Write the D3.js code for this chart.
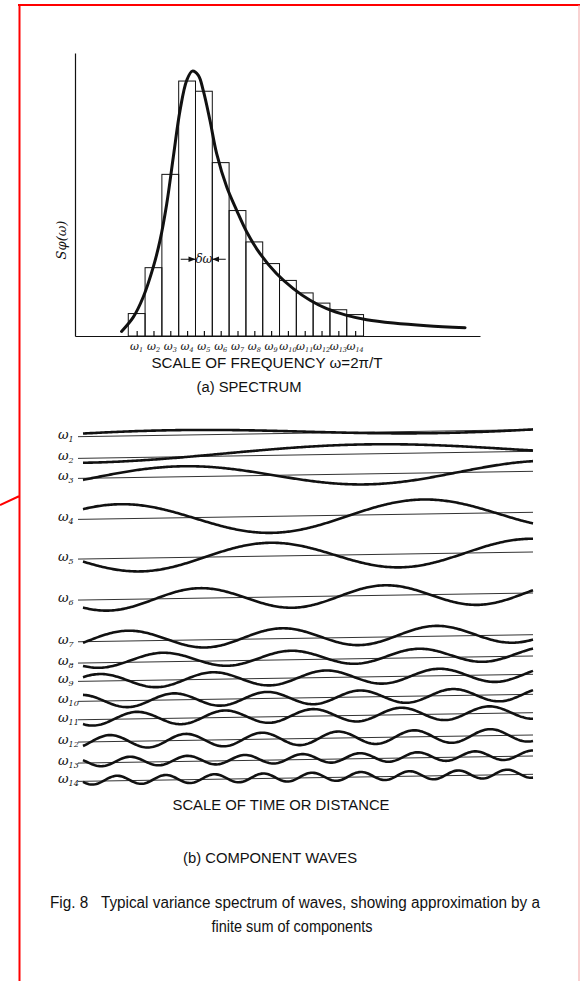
<!DOCTYPE html>
<html>
<head>
<meta charset="utf-8">
<script src="https://cdn.jsdelivr.net/npm/d3@7"></script>
<style>
  body { margin: 0; background: #fff; }
  svg { display: block; }
  text { fill: #111; font-family: "Liberation Sans", "DejaVu Sans", sans-serif; white-space: pre; }
</style>
</head>
<body>
<svg id="fig" width="580" height="981"></svg>
<script>
/* Fig. 8 - variance spectrum and its component waves */

// spectrum bars (relative variance per band, bar 4 = 100)
const bandLabels = d3.range(1, 15);
const bandHeights = [8.8, 26.8, 63.4, 100, 96, 68, 49.2, 36.9, 28.4, 21.8, 16.9, 12.9, 10.3, 8.4];

// smooth spectrum curve (omega in band units, S in same units as bars)
const curveOmega = [0.1, 0.8, 1.39, 1.99, 2.39, 2.79, 3.18, 3.58, 3.98, 4.31, 4.67, 4.96, 5.36, 5.76, 6.36, 6.95, 7.55, 8.34, 9.33, 10.32, 11.32, 12.31, 13.5, 14.69, 16.27, 18.26, 20.54];
const curveS     = [1.8, 7.4, 15.3, 27.1, 37.5, 51.9, 70.2, 88.5, 100.3, 103.9, 102.2, 96.3, 84.6, 71.5, 58.4, 49.3, 40.8, 32.3, 24.4, 18.6, 14.0, 10.7, 8.1, 6.4, 5.1, 4.05, 3.27];

// component waves: amplitude, period, first crest and mean offset (time units)
const waveAmp    = [3.5, 7, 10.5, 15.5, 13.3, 10.5, 9, 7, 7, 6.5, 6.5, 6.5, 4.5, 4.2];
const wavePeriod = [520, 574, 365, 303, 260, 185, 154, 128, 113, 93, 88, 76, 57.5, 48.75];
const waveCrest  = [92, 284, 100, 37, 187, 117, 45, 80, 17, 91, 54, 27, 47, 34];
const waveOffset = [1.5, 2.5, 0, -1, 0, -0.5, 1.3, 2, 0, 0, 0.5, 0, 1, 0.8];

// layout
const rowY = [436.6, 458.3, 478.3, 519.3, 559, 600, 641.7, 663, 681.3, 701.3, 719.7, 742, 763, 781.3];
const rowTilt = 7;

const svg = d3.select("#fig");
const ink = "#111";

// red frame of the scan
svg.append("path")
    .attr("d", "M18,5H580M19.5,5V981M0,505L19.5,496")
    .attr("fill", "none").attr("stroke", "#f00").attr("stroke-width", 2);
svg.append("line")
    .attr("x1", 579).attr("x2", 579).attr("y1", 5).attr("y2", 981)
    .attr("stroke", "#f3a3a3").attr("stroke-width", 1);

// ---------- (a) spectrum ----------
const x = d3.scaleLinear().domain([-2.67, 21.43]).range([75, 480]);
const y = d3.scaleLinear().domain([0, 111]).range([336, 53]);

const spec = svg.append("g");

spec.selectAll("rect.band")
    .data(bandHeights)
    .join("rect")
    .attr("class", "band")
    .attr("x", (d, i) => x(i + 0.5))
    .attr("y", d => y(d))
    .attr("width", x(1) - x(0))
    .attr("height", d => y(0) - y(d))
    .attr("fill", "none")
    .attr("stroke", ink)
    .attr("stroke-width", 1);

// axes
spec.append("g")
    .attr("transform", `translate(0,${y(0)})`)
    .call(d3.axisBottom(x).tickValues(bandLabels).tickSizeInner(-5).tickSizeOuter(0).tickFormat(""))
    .call(g => g.selectAll("path, line").attr("stroke", ink).attr("stroke-width", 1.2));
spec.append("g")
    .attr("transform", `translate(${x.range()[0]},0)`)
    .call(d3.axisLeft(y).tickValues([]).tickSizeOuter(0))
    .call(g => g.select("path").attr("stroke", ink).attr("stroke-width", 1.2));

// spectrum curve
spec.append("path")
    .datum(curveOmega.map((w, i) => [w, curveS[i]]))
    .attr("d", d3.line().x(d => x(d[0])).y(d => y(d[1])).curve(d3.curveCatmullRom))
    .attr("fill", "none")
    .attr("stroke", ink)
    .attr("stroke-width", 3)
    .attr("stroke-linecap", "round");

// band labels
const bl = spec.selectAll("text.bl")
    .data(bandLabels)
    .join("text")
    .attr("class", "bl")
    .attr("x", d => x(d))
    .attr("y", 350)
    .attr("text-anchor", "middle")
    .style("font-family", "DejaVu Serif")
    .style("font-style", "italic")
    .style("font-size", "11px");
bl.append("tspan").text("ω");
bl.append("tspan").attr("dy", 2).style("font-size", "6.5px").text(d => d);

// delta omega arrows
svg.append("defs").append("marker")
    .attr("id", "ah").attr("viewBox", "0 0 10 10").attr("refX", 10).attr("refY", 5)
    .attr("markerWidth", 7).attr("markerHeight", 7).attr("orient", "auto")
    .append("path").attr("d", "M0,1L10,5L0,9Z").attr("fill", ink);
[[3.62, 4.5], [6.3, 5.5]].forEach(([a, b]) => {
    spec.append("line")
        .attr("x1", x(a)).attr("x2", x(b)).attr("y1", y(30.1)).attr("y2", y(30.1))
        .attr("stroke", ink).attr("stroke-width", 1)
        .attr("marker-end", "url(#ah)");
});
spec.append("text")
    .attr("x", x(5)).attr("y", y(30.1) + 4)
    .attr("text-anchor", "middle")
    .style("font-family", "DejaVu Serif").style("font-style", "italic")
    .style("font-size", "12px")
    .text("δω");

// y label
spec.append("text")
    .attr("transform", "translate(66,240) rotate(-90)")
    .attr("text-anchor", "middle")
    .style("font-family", "DejaVu Serif").style("font-style", "italic")
    .style("font-size", "13px")
    .text("Sφ(ω)");

spec.append("text")
    .attr("x", 267).attr("y", 368)
    .attr("text-anchor", "middle")
    .style("font-size", "15px")
    .attr("textLength", 231).attr("lengthAdjust", "spacingAndGlyphs")
    .text("SCALE OF FREQUENCY ω=2π/T");
spec.append("text")
    .attr("x", 249).attr("y", 392)
    .attr("text-anchor", "middle")
    .style("font-size", "14px")
    .attr("textLength", 105).attr("lengthAdjust", "spacingAndGlyphs")
    .text("(a) SPECTRUM");

// ---------- (b) component waves ----------
const t = d3.scaleLinear().domain([0, 450]).range([83, 533]);
const tSamples = d3.range(0, 450.1, 1.5);

const waves = svg.append("g");
bandLabels.forEach((n, i) => {
    const base = v => rowY[i] - rowTilt * v / 450;
    const row = waves.append("g");
    // reference line
    row.append("line")
        .attr("x1", t(-5)).attr("x2", t(450)).attr("y1", base(-5)).attr("y2", base(450))
        .attr("stroke", "#333").attr("stroke-width", 1);
    // wave
    row.append("path")
        .datum(tSamples)
        .attr("d", d3.line()
            .x(v => t(v))
            .y(v => base(v) - (waveOffset[i] + waveAmp[i] * Math.cos(2 * Math.PI * (v - waveCrest[i]) / wavePeriod[i]))))
        .attr("fill", "none")
        .attr("stroke", ink)
        .attr("stroke-width", 2.6);
    // label
    const lab = row.append("text")
        .attr("x", 58).attr("y", rowY[i] + 2)
        .style("font-family", "DejaVu Serif").style("font-style", "italic")
        .style("font-size", "13px");
    lab.append("tspan").text("ω");
    lab.append("tspan").attr("dy", 3).style("font-size", "8px").text(n);
});

svg.append("text")
    .attr("x", 281).attr("y", 810)
    .attr("text-anchor", "middle")
    .style("font-size", "15px")
    .attr("textLength", 217).attr("lengthAdjust", "spacingAndGlyphs")
    .text("SCALE OF TIME OR DISTANCE");
svg.append("text")
    .attr("x", 270).attr("y", 863)
    .attr("text-anchor", "middle")
    .style("font-size", "15px")
    .attr("textLength", 174).attr("lengthAdjust", "spacingAndGlyphs")
    .text("(b) COMPONENT WAVES");

// caption
svg.append("text")
    .attr("x", 50).attr("y", 908)
    .style("font-size", "16px")
    .attr("textLength", 490).attr("lengthAdjust", "spacingAndGlyphs")
    .text("Fig. 8\u00a0\u00a0\u00a0Typical variance spectrum of waves, showing approximation by a");
svg.append("text")
    .attr("x", 292).attr("y", 932)
    .attr("text-anchor", "middle")
    .style("font-size", "16px")
    .attr("textLength", 161).attr("lengthAdjust", "spacingAndGlyphs")
    .text("finite sum of components");
</script>
</body>
</html>
